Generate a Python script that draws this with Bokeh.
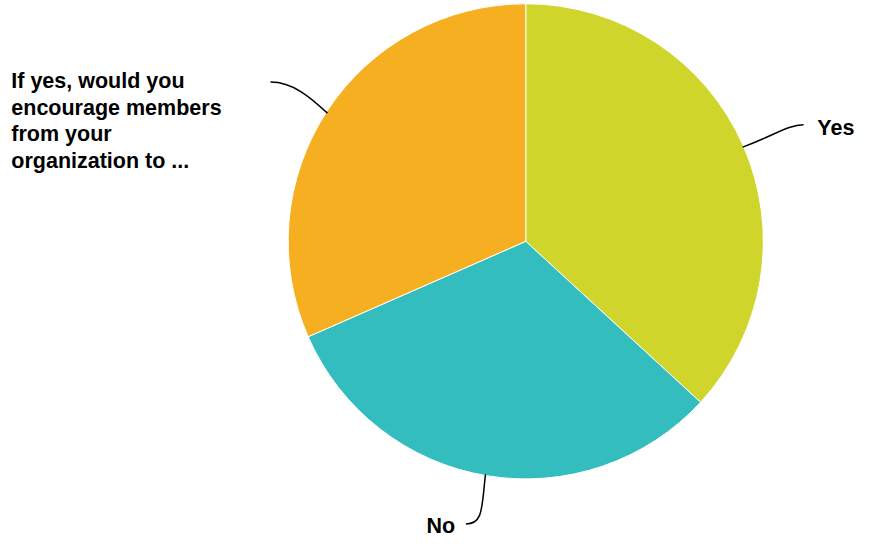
import math
from bokeh.plotting import figure
from bokeh.models import Range1d, ColumnDataSource
from bokeh.core.properties import value
from bokeh.embed import file_html
from bokeh.resources import INLINE

# Data
categories = ["Yes", "No", "If yes, would you\nencourage members\nfrom your\norganization to ..."]
counts = [7, 6, 6]
colors = ["#CFD52B", "#34BDBE", "#F6AF20"]

W, H = 862, 538
RW, RH = 878, 554  # layout reference space
p = figure(width=W, height=H, x_range=Range1d(0, RW), y_range=Range1d(0, RH),
           output_backend="svg", toolbar_location=None, min_border=0)
p.axis.visible = False
p.grid.visible = False
p.outline_line_color = None
p.background_fill_color = "white"
p.border_fill_color = "white"

def Y(sy):
    return RH - sy

cx, cy, r = 535, Y(248), 242
total = sum(counts)
start = math.pi / 2
starts, ends = [], []
for c in counts:
    span = 2 * math.pi * c / total
    ends.append(start)
    starts.append(start - span)
    start -= span

src = ColumnDataSource(dict(start=starts, end=ends, color=colors, cat=categories))
p.wedge(x=cx, y=cy, radius=r, start_angle="start", end_angle="end", fill_color="color",
        line_color="white", line_width=1, source=src)

# leader lines
p.bezier(x0=[756, 275, 494], y0=[Y(151), Y(84), Y(488)],
         x1=[818, 333, 474], y1=[Y(128), Y(116), Y(539)],
         cx0=[790, 298, 490], cy0=[Y(138), Y(84), Y(522)],
         cx1=[802, 316, 492], cy1=[Y(128), Y(100), Y(539)],
         line_color="black", line_width=1.5)

font = value("Liberation Sans")
fs = "21.5px"
p.text(x=[832], y=[Y(131)], text=[categories[0]], text_font=font, text_font_style="bold",
       text_font_size=fs, text_baseline="alphabetic", text_color="black")
p.text(x=[434], y=[Y(541)], text=[categories[1]], text_font=font, text_font_style="bold",
       text_font_size=fs, text_baseline="alphabetic", text_color="black")
p.text(x=[11], y=[Y(71)], text=[categories[2]], text_font=font, text_font_style="bold",
       text_font_size=fs, text_baseline="top", text_color="black", text_line_height=1.1)

open("out.html", "w").write(file_html(p, INLINE))
